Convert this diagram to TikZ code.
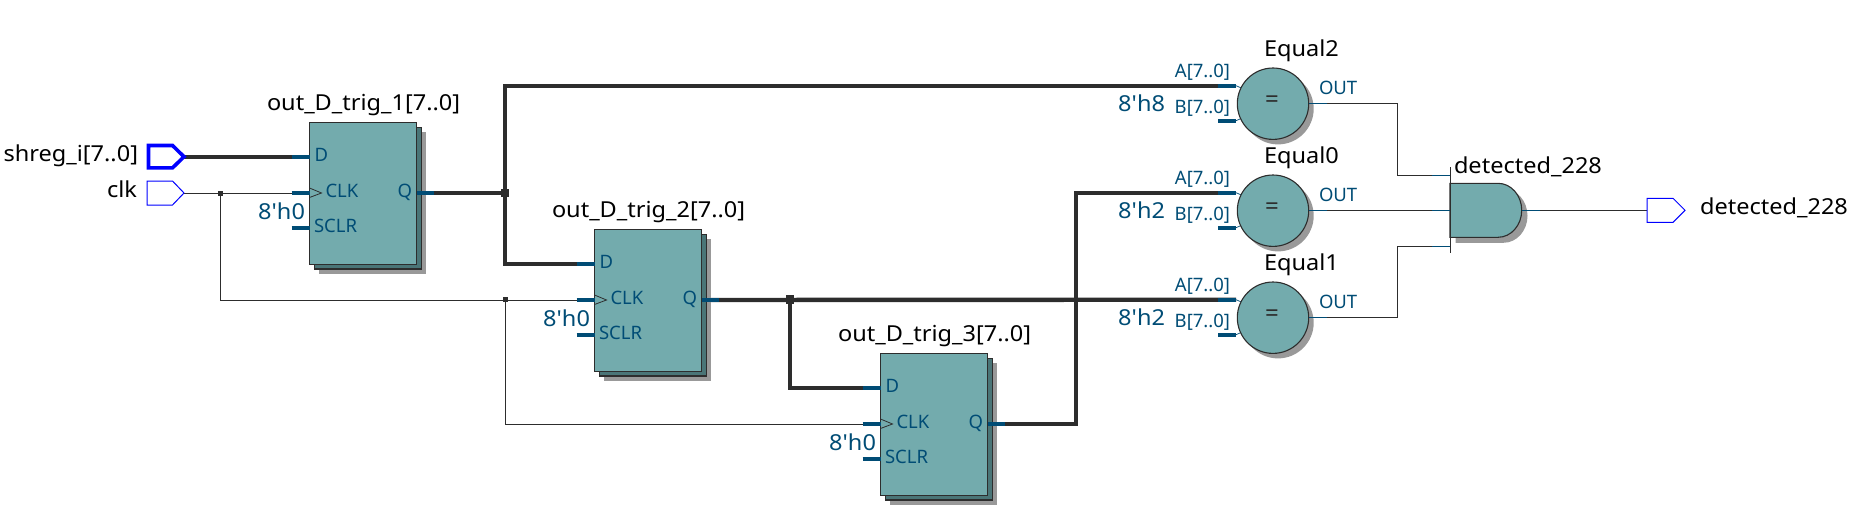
\documentclass[tikz,border=0pt]{standalone}
\usepackage{fontspec}
\newfontfamily\lab{Noto Sans}
\newfontfamily\labw[FakeStretch=1.07]{Noto Sans}
\definecolor{teal1}{HTML}{73ABAD}
\definecolor{teal2}{HTML}{4A7577}
\definecolor{shad}{HTML}{999999}
\definecolor{pinc}{HTML}{004C75}
\definecolor{wirec}{HTML}{2D2D2D}
\pgfdeclarelayer{wires}
\pgfsetlayers{wires,main}
\tikzset{
  x=1pt,y=-1pt,
  thin wire/.style={draw=wirec,line width=.9pt},
  bus/.style={draw=wirec,line width=4.4pt,line join=miter},
  pinstub/.style={draw=pinc,line width=4.4pt},
  pinthin/.style={draw=pinc,line width=.9pt},
  txt/.style={inner sep=0pt,outer sep=0pt,font=\labw\fontsize{22}{24}\selectfont,text=black},
  const/.style={txt,text=pinc,anchor=base east},
  pinlab/.style={inner sep=0pt,outer sep=0pt,font=\lab\fontsize{18.5}{22}\selectfont,text=pinc},
  ioport/.style={draw=blue,fill=white,line width=1pt,line join=miter},
  block/.style={draw=wirec,line width=1.1pt,fill=teal1},
  junc/.style={fill=wirec,inner sep=0pt,minimum size=#1},
}
\newcommand{\ffblock}[4]{% name, left x, top y, label
  \fill[shad] (#2+9.5,#3+9.5) rectangle (#2+116.5,#3+151);
  \draw[draw=wirec,line width=1.1pt,fill=teal2] (#2+5,#3+5) rectangle (#2+112,#3+146.5);
  \node[block,anchor=north west,minimum width=107.4pt,minimum height=141.7pt,inner sep=0pt,outer sep=0pt] (#1) at (#2,#3) {};
  \coordinate (#1-D) at (#2,#3+34.2);
  \coordinate (#1-CLK) at (#2,#3+70.5);
  \coordinate (#1-SCLR) at (#2,#3+105.2);
  \coordinate (#1-Q) at (#2+107.4,#3+70.5);
  \draw[pinstub] (#2-18,#3+34.2) -- (#1-D);
  \draw[pinstub] (#2-18,#3+70.5) -- (#1-CLK);
  \draw[pinstub] (#2-18,#3+105.2) -- (#1-SCLR);
  \draw[pinstub] (#1-Q) -- (#2+124.5,#3+70.5);
  \draw[draw=wirec,line width=.8pt,line join=miter] (#2,#3+65.5) -- (#2+12,#3+70.5) -- (#2,#3+75);
  \node[pinlab,anchor=base west] (#1-tD) at (#2+5,#3+38.7) {D};
  \node[pinlab,anchor=base west] (#1-tC) at (#2+16,#3+74.5) {CLK};
  \node[pinlab,anchor=base west] (#1-tS) at (#2+4.5,#3+110) {SCLR};
  \node[pinlab,anchor=base east] (#1-tQ) at (#2+102.5,#3+74.5) {Q};
  \node[const] (#1-c) at (#2-4.5,#3+96.5) {8'h0};
  \node[txt,anchor=base west] (#1-t) at (#2-42.5,#3-11.8) {#4};
}
\newcommand{\eqblock}[4]{% name, centre y, label, constant
  \fill[shad] (1278,#2+5) circle[radius=35.7];
  \draw[pinthin,line width=.7pt] (1236,#2-18) -- (1243,#2-15);
  \draw[pinthin,line width=.7pt] (1236,#2+17) -- (1243,#2+14);
  \node[block,circle,minimum size=71.4pt,inner sep=0pt,outer sep=0pt] (#1) at (1273,#2) {};
  \coordinate (#1-A) at (1236,#2-18);
  \coordinate (#1-B) at (1236,#2+17);
  \coordinate (#1-OUT) at (1308.7,#2-.4);
  \draw[pinstub] (1218,#2-18) -- (#1-A);
  \draw[pinstub] (1218,#2+17) -- (#1-B);
  \node[inner sep=0pt,text=wirec,font=\lab\bfseries\fontsize{24}{26}\selectfont] (#1-eq) at (1272,#2-2.5) {=};
  \node[pinlab,anchor=base east] (#1-tA) at (1230,#2-26) {A[7..0]};
  \node[pinlab,anchor=base east] (#1-tB) at (1230,#2+9.6) {B[7..0]};
  \node[pinlab,anchor=base west] (#1-tO) at (1319,#2-9) {OUT};
  \node[const] (#1-c) at (1165,#2+7.8) {#4};
  \node[txt,anchor=base west] (#1-t) at (1264,#2-47.4) {#3};
}
\begin{document}
\begin{tikzpicture}
\useasboundingbox (0,0) rectangle (1857,511);

% input ports
\coordinate (shregtip) at (184,156.7);
\coordinate (clktip) at (184,193);
\draw[ioport,line width=3.6pt] (148.5,145.5) -- (172.5,145.5) -- (shregtip) -- (172.5,167.9) -- (148.5,167.9) -- cycle;
\draw[ioport] (147,181) -- (172.5,181) -- (clktip) -- (172.5,205) -- (147,205) -- cycle;
\node[txt,anchor=base east] (shregtxt) at (138,161) {shreg\_i[7..0]};
\node[txt,anchor=base east] (clktxt) at (137,197) {clk};

% registers
\ffblock{ffa}{309.5}{122.5}{out\_D\_trig\_1[7..0]}
\ffblock{ffb}{594.5}{229.5}{out\_D\_trig\_2[7..0]}
\ffblock{ffc}{880.5}{353.5}{out\_D\_trig\_3[7..0]}

% comparators
\eqblock{eqc}{103.7}{Equal2}{8'h8}
\eqblock{eqa}{210.7}{Equal0}{8'h2}
\eqblock{eqb}{317.7}{Equal1}{8'h2}

% AND gate
\fill[shad] (1455.5,188.8) -- (1503.5,188.8) arc[start angle=-90,end angle=90,x radius=24,y radius=27] -- (1455.5,242.8) -- cycle;
\coordinate (gatein1) at (1450,175.3);
\coordinate (gatein2) at (1450,210.3);
\coordinate (gatein3) at (1450,246.7);
\coordinate (gateout) at (1521.7,210.3);
\draw[block] (1450,183.3) -- (1498,183.3) arc[start angle=-90,end angle=90,x radius=23.7,y radius=27] -- (1450,237.3) -- cycle;
\draw[thin wire] (1450,167) -- (1450,252.7);
\node[txt,anchor=base west] (andtxt) at (1454,173.3) {detected\_228};

% output port
\coordinate (outbase) at (1647,210.3);
\draw[ioport] (outbase) -- (1647,198.3) -- (1673,198.3) -- (1685,210.3) -- (1673,222.3) -- (1647,222.3) -- cycle;
\node[txt,anchor=base west] (outtxt) at (1700,214) {detected\_228};

% junctions
\node[junc=8.5pt] (ja) at (505,193) {};
\node[junc=5pt] (jb) at (220,193) {};
\node[junc=5pt] (jc) at (505,299.7) {};
\node[junc=8.5pt] (jd) at (790,299.7) {};
\coordinate (qcx) at (1075.7,424);

\begin{pgfonlayer}{wires}
  \draw[bus] (shregtip) -- (ffa-D);
  \draw[bus] (ffa-Q) -- (ja.center);
  \draw[bus] (eqc-A) -| (ja.center);
  \draw[bus] (ja.center) |- (ffb-D);
  \draw[bus] (ffb-Q) -- (eqb-A);
  \draw[bus] (jd.center) |- (ffc-D);
  \draw[bus] (ffc-Q) -- (qcx) |- (eqa-A);
  \draw[thin wire] (clktip) -- (ffa-CLK);
  \draw[thin wire] (jb.center) |- (ffb-CLK);
  \draw[thin wire] (jc.center) |- (ffc-CLK);
  \draw[thin wire] (eqc-OUT) -- (1397.7,103.3) |- (gatein1);
  \draw[thin wire] (eqa-OUT) -- (gatein2);
  \draw[thin wire] (eqb-OUT) -- (1397.7,317.3) |- (gatein3);
  \draw[thin wire] (gateout) -- (outbase);
\end{pgfonlayer}

% thin pin stubs
\draw[pinthin] (eqc-OUT) -- ++(18,0);
\draw[pinthin] (eqa-OUT) -- ++(18,0);
\draw[pinthin] (eqb-OUT) -- ++(18,0);
\draw[pinthin] (gatein1) -- ++(-18,0);
\draw[pinthin] (gatein2) -- ++(-18,0);
\draw[pinthin] (gatein3) -- ++(-18,0);
\draw[pinthin] (gateout) -- ++(18,0);
\end{tikzpicture}
\end{document}
